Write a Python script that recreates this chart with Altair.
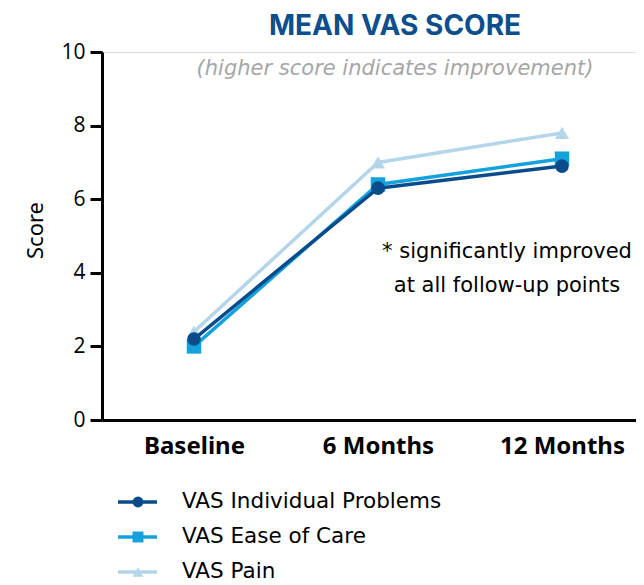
import altair as alt
import pandas as pd

timepoints = ["Baseline", "6 Months", "12 Months"]
series_names = ["VAS Individual Problems", "VAS Ease of Care", "VAS Pain"]
individual_problems = [2.2, 6.3, 6.9]
ease_of_care = [2.0, 6.4, 7.1]
pain = [2.4, 7.0, 7.8]
series_colors = ["#0a4c8b", "#14a2dc", "#b5d5ea"]
series_shapes = ["circle", "square", "triangle-up"]

title_text = "MEAN VAS SCORE"
subtitle_text = "(higher score indicates improvement)"
note_lines = ["* significantly improved", "at all follow-up points"]

rows = []
for name, vals in zip(series_names, [individual_problems, ease_of_care, pain]):
    for t, v in zip(timepoints, vals):
        rows.append({"series": name, "time": t, "score": v})
df = pd.DataFrame(rows)
legend_df = pd.DataFrame({"series": series_names})

color = alt.Color("series:N", scale=alt.Scale(domain=series_names, range=series_colors), legend=None)
shape = alt.Shape("series:N", scale=alt.Scale(domain=series_names, range=series_shapes), legend=None)

x = alt.X("time:N", sort=timepoints, scale=alt.Scale(type="point", padding=0.4511, align=0.5542),
          axis=alt.Axis(title=None, labelAngle=0, ticks=False, domainColor="black", domainWidth=3,
                        labelFontSize=24, labelFontWeight="bold", labelFont="Noto Sans",
                        labelColor="black", labelPadding=14, grid=False))
y = alt.Y("score:Q", scale=alt.Scale(domain=[0, 10]),
          axis=alt.Axis(title="Score", values=[0, 2, 4, 6, 8, 10], tickSize=12, tickWidth=3,
                        tickColor="black", domainColor="black", domainWidth=3, labelFontSize=21,
                        labelFont="Open Sans", labelColor="black", labelPadding=5, grid=False,
                        titleFontSize=22, titleFont="Noto Sans", titleFontWeight="normal",
                        titleColor="black", titleX=-60, titleY=178, titleBaseline="alphabetic",
                        titleAngle=270))

layers = []
for name, sz in zip(reversed(series_names), [200, 210, 185]):
    base = alt.Chart(df).transform_filter(alt.datum.series == name)
    layers.append(base.mark_line(strokeWidth=3.5).encode(x=x, y=y, color=color))
    layers.append(base.mark_point(filled=True, opacity=1, size=sz).encode(x=x, y=y, color=color, shape=shape))

main = alt.layer(*layers)

ly = alt.Y("series:N", scale=alt.Scale(type="point", domain=series_names, range=[450, 520], padding=0),
           axis=None)
leg_rule = alt.Chart(legend_df).mark_rule(strokeWidth=3.5).encode(
    x=alt.value(16), x2=alt.value(55), y=ly, color=color)
leg_pt = alt.Chart(legend_df).mark_point(filled=True, opacity=1, size=120).encode(
    x=alt.value(36), y=ly, color=color, shape=shape)
leg_txt = alt.Chart(legend_df).mark_text(align="left", baseline="middle", fontSize=21.5,
                                          font="DejaVu Sans", color="black").encode(
    x=alt.value(80), y=ly, text="series:N")
legend = alt.layer(leg_rule, leg_pt, leg_txt)

ann_df = pd.DataFrame({"k": [0]})
title = alt.Chart(ann_df).mark_text(align="center", baseline="alphabetic", fontSize=28,
                                    font="Inter", fontWeight="bold", color="#0c4f8c").encode(
    x=alt.value(293), y=alt.value(-17), text=alt.value(title_text))
subtitle = alt.Chart(ann_df).mark_text(align="center", baseline="alphabetic", fontSize=21,
                                       font="DejaVu Sans", fontStyle="italic", fontWeight=200,
                                       color="#a6a6a6").encode(
    x=alt.value(293), y=alt.value(23), text=alt.value(subtitle_text))
note = alt.Chart(ann_df).mark_text(align="center", baseline="alphabetic", fontSize=21,
                                   font="DejaVu Sans", color="black", lineHeight=34).encode(
    x=alt.value(405), y=alt.value(206), text=alt.value(note_lines))

chart = alt.layer(main, legend, title, subtitle, note).resolve_scale(y="independent").properties(
    width=534, height=368,
    autosize=alt.AutoSizeParams(type="none"),
    padding={"left": 94, "top": 44, "right": 0, "bottom": 165},
).configure_view(stroke=None).configure(background="white")

chart.save("out.html", embed_options={"renderer": "svg", "actions": False})
